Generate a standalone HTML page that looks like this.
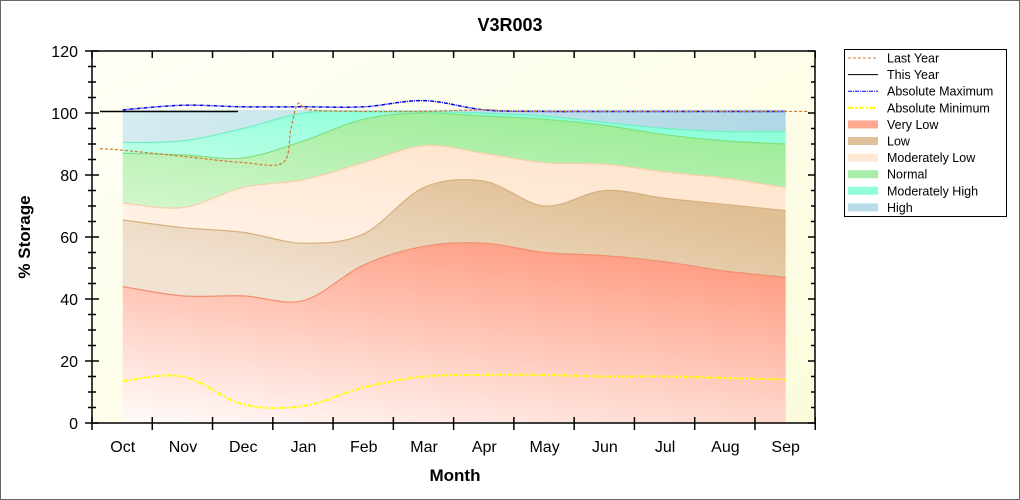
<!DOCTYPE html>
<html><head><meta charset="utf-8"><style>
html,body{margin:0;padding:0;background:#fff}
svg{display:block;font-family:"Liberation Sans",sans-serif}
</style></head><body>
<svg id="s" width="1020" height="500" viewBox="0 0 1020 500" xmlns="http://www.w3.org/2000/svg">
<defs>
<linearGradient id="bg" x1="0" y1="0" x2="1" y2="1"><stop offset="0" stop-color="#fffff6"/><stop offset="1" stop-color="#fbfbdc"/></linearGradient>
<linearGradient id="vl" x1="0.1" y1="1" x2="0.6" y2="0"><stop offset="0" stop-color="#fff8f6"/><stop offset="1" stop-color="#ff9f86"/></linearGradient>
<linearGradient id="lo" x1="0" y1="0.6" x2="0.7" y2="0"><stop offset="0" stop-color="#f1e2d2"/><stop offset="1" stop-color="#dfbf93"/></linearGradient>
<linearGradient id="ml" x1="0" y1="1" x2="1" y2="0"><stop offset="0" stop-color="#fff3e8"/><stop offset="1" stop-color="#ffe2c8"/></linearGradient>
<linearGradient id="no" x1="0" y1="1" x2="0.8" y2="0"><stop offset="0" stop-color="#d4f6ce"/><stop offset="1" stop-color="#98ec94"/></linearGradient>
<linearGradient id="mh" x1="0" y1="1" x2="1" y2="0"><stop offset="0" stop-color="#bcffe6"/><stop offset="1" stop-color="#7dffd6"/></linearGradient>
<linearGradient id="hi" x1="0" y1="0" x2="1" y2="0"><stop offset="0" stop-color="#d4ecf0"/><stop offset="1" stop-color="#b0d8e6"/></linearGradient>
</defs>
<rect x="0.5" y="0.5" width="1019" height="499" fill="#fff" stroke="#666"/>
<rect x="92" y="51" width="723" height="372" fill="url(#bg)"/>
<g id="bands"></g>
<g id="lines"></g>
<g id="axes" stroke="#000" stroke-width="1.5" fill="none"></g>
<text x="510" y="31" text-anchor="middle" font-size="18" font-weight="bold">V3R003</text>
<text x="455" y="481" text-anchor="middle" font-size="17" font-weight="bold">Month</text>
<text transform="translate(30,237) rotate(-90)" text-anchor="middle" font-size="17" font-weight="bold">% Storage</text>
<g id="lab" font-size="16"></g>
<g id="leg"></g>
</svg>
<script>
const NS="http://www.w3.org/2000/svg";
const X=m=>122.7+m*60.27, Y=v=>423-v*3.1;
function el(p,t,a,txt){const e=document.createElementNS(NS,t);for(const k in a)e.setAttribute(k,a[k]);if(txt!=null)e.textContent=txt;document.getElementById(p).appendChild(e);return e;}
function pts(arr){return arr.map((v,i)=>[X(i),Y(v)]);}
function smooth(p){let d="";for(let i=0;i<p.length-1;i++){const p0=p[i-1]||p[i],p1=p[i],p2=p[i+1],p3=p[i+2]||p2;
const c1=[p1[0]+(p2[0]-p0[0])/6,p1[1]+(p2[1]-p0[1])/6],c2=[p2[0]-(p3[0]-p1[0])/6,p2[1]-(p3[1]-p1[1])/6];
d+=(i==0?"M"+p1[0]+","+p1[1]:"")+" C"+c1+" "+c2+" "+p2;}return d;}
function revSmooth(p){return smooth(p.slice().reverse()).replace(/^M/," L");}
const hi=[101,101,101,101,101,101,101,101,101,101,101,101];
const mh=[90.5,91,95,100,100.5,100.5,100,99,97,95,94,94];
const no=[87,86.5,85.5,91,98,100,99,98,96,93,91,90];
const ml=[71,69.5,76,78.5,84,89.5,87,84,83.5,81,79,76];
const lo=[65.5,63,61.5,58,61,76,78,70,75,72.5,70.5,68.5];
const vl=[44,41,41,39.5,51,57,58,55,54,52,49,47];
const zero=new Array(12).fill(0);
[[hi,mh,"url(#hi)"],[mh,no,"url(#mh)"],[no,ml,"url(#no)"],[ml,lo,"url(#ml)"],[lo,vl,"url(#lo)"],[vl,zero,"url(#vl)"]].forEach(([a,b,f])=>{
el("bands","path",{d:smooth(pts(a))+revSmooth(pts(b))+" Z",fill:f});});
[[mh,"#70f0c0"],[no,"#80e080"],[ml,"#f5cfa8"],[lo,"#d8b080"],[vl,"#f09070"]].forEach(([a,c])=>el("bands","path",{d:smooth(pts(a)),fill:"none",stroke:c,"stroke-width":1.2}));
const amx=[101,102.5,102,102,102,104,101,100.5,100.5,100.5,100.5,100.5];
el("lines","path",{d:smooth(pts(amx)),fill:"none",stroke:"#0000ee","stroke-width":1.5,"stroke-dasharray":"4,1,1,1"});
const amn=[13.5,15,6,5.5,11.5,15,15.5,15.5,15,15,14.5,14];
el("lines","path",{d:smooth(pts(amn)),fill:"none",stroke:"#ffff00","stroke-width":2,"stroke-dasharray":"5,2,2,2"});
const ly=[[100,88.5],[X(0),88],[X(1),86],[X(2),84],[283,84],[291,95],[298,103],[310,101],[X(4),100.5],[X(5),100.5],[X(6),101],[X(7),100.5],[808,100.5]].map(p=>[p[0],Y(p[1])]);
el("lines","path",{d:smooth(ly),fill:"none",stroke:"#d07830","stroke-width":1.2,"stroke-dasharray":"3,2"});
el("lines","line",{x1:100,y1:Y(100.5),x2:238,y2:Y(100.5),stroke:"#000","stroke-width":1.5});
el("axes","rect",{x:92,y:51,width:723,height:372});
for(let v=0;v<=120;v+=5){const y=Y(v),maj=v%20==0;
el("axes","line",{x1:maj?85:88,y1:y,x2:maj?99:96,y2:y});
el("axes","line",{x1:815,y1:y,x2:maj?808:811,y2:y});
if(maj)el("lab","text",{x:78,y:y+6,"text-anchor":"end"},v);}
const mo=["Oct","Nov","Dec","Jan","Feb","Mar","Apr","May","Jun","Jul","Aug","Sep"];
for(let k=0;k<=12;k++){const x=92+k*60.27;el("axes","line",{x1:x,y1:417,x2:x,y2:430});el("axes","line",{x1:x,y1:51,x2:x,y2:58});}
mo.forEach((m,i)=>el("lab","text",{x:X(i),y:452,"text-anchor":"middle"},m));
el("leg","rect",{x:844.5,y:49.5,width:162,height:167,fill:"#fff",stroke:"#000"});
const L=[["Last Year","l","#d07830","3,2",1],["This Year","l","#000","",1],["Absolute Maximum","l","#0000ee","4,1,1,1",1],["Absolute Minimum","l","#ffff00","5,2,2,2",2],
["Very Low","b","#ffa890"],["Low","b","#dfc09a"],["Moderately Low","b","#ffe8d4"],["Normal","b","#a8eda8"],["Moderately High","b","#90ffd8"],["High","b","#b8dcea"]];
L.forEach((r,i)=>{const y=58+i*16.6;
if(r[1]=="l")el("leg","line",{x1:848,y1:y,x2:878,y2:y,stroke:r[2],"stroke-width":r[4],"stroke-dasharray":r[3]});
else el("leg","rect",{x:848,y:y-4,width:30,height:8,fill:r[2]});
el("leg","text",{x:887,y:y+4.5,"font-size":12.5,fill:"#000"},r[0]);});
</script>
</body></html>
